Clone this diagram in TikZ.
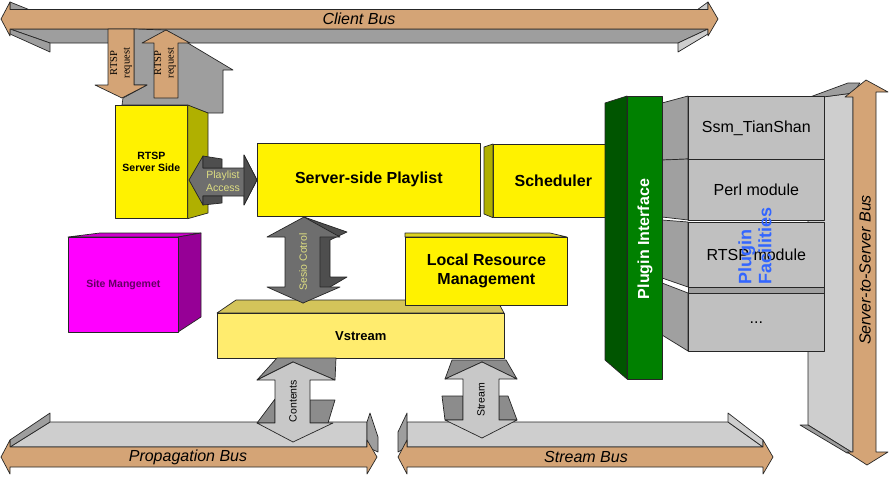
\documentclass[tikz,border=0pt]{standalone}
\usepackage{fontspec}
\setmainfont{Liberation Sans}
\newfontfamily\serifrm{Liberation Serif}
\definecolor{bustan}{RGB}{212,164,118}
\definecolor{busgray}{RGB}{158,158,158}
\definecolor{buslight}{RGB}{206,206,206}
\definecolor{boxolive}{RGB}{176,176,0}
\definecolor{vsfront}{RGB}{255,236,110}
\definecolor{vstop}{RGB}{212,196,90}
\definecolor{modfront}{RGB}{192,192,192}
\definecolor{modside}{RGB}{160,160,160}
\definecolor{pluggreen}{RGB}{0,128,0}
\definecolor{plugdark}{RGB}{0,85,0}
\definecolor{sitefront}{RGB}{255,0,255}
\definecolor{siteside}{RGB}{150,0,150}
\definecolor{sitetop}{RGB}{204,0,204}
\definecolor{sitetext}{RGB}{100,0,100}
\definecolor{arrowdark}{RGB}{110,110,110}
\definecolor{arrowdarker}{RGB}{78,78,78}
\definecolor{flapgray}{RGB}{140,140,140}
\definecolor{arrowlight}{RGB}{200,200,200}
\definecolor{khaki}{RGB}{222,222,130}
\definecolor{facblue}{RGB}{51,102,255}

\begin{document}
\begin{tikzpicture}[x=1pt,y=-1pt,
  outl/.style={draw=black!85,line width=0.7pt,line join=round},
  frontbox/.style={outl,fill=#1,anchor=north west,inner sep=0pt,align=center},
  busname/.style={font=\fontsize{16}{19}\selectfont\itshape},
  bigbold/.style={font=\fontsize{16}{19}\selectfont\bfseries},
  modname/.style={font=\fontsize{16}{19}\selectfont},
  smallbold/.style={font=\fontsize{10.5}{12.5}\selectfont\bfseries},
  small/.style={font=\fontsize{10.5}{12.5}\selectfont}]

\useasboundingbox (0,0) rectangle (889,477);

% client bus
\filldraw[busgray,outl] (10,29) -- (708,29) -- (678,43) -- (50,43) -- cycle;
\filldraw[busgray,outl] (10,29) -- (50,43) -- (50,52) -- (10,34) -- cycle;
\filldraw[buslight,outl] (708,29) -- (708,34) -- (678,52) -- (678,43) -- cycle;
\filldraw[busgray,outl] (10,2) -- (30,10) -- (10,10) -- cycle;
\filldraw[buslight,outl] (708,2) -- (708,10) -- (697,10) -- cycle;
\filldraw[bustan,outl] (1,19) -- (10,2) -- (10,9.5) -- (708,9.5) -- (708,2) -- (718,19)
  -- (708,36) -- (708,29) -- (10,29) -- (10,36) -- cycle;
\node[busname] (clientbus) at (359,19) {Client Bus};

% rtsp requests
\filldraw[busgray,outl] (134,29) -- (166,30) -- (233,70) -- (223,70) -- (223,113) -- (208,113)
  -- (187,105) -- (122,105) -- (123,98) -- (147,85) -- (134,85) -- cycle;
\filldraw[bustan,outl] (108,29) -- (134,29) -- (134,85) -- (147,85) -- (122,98) -- (95,85) -- (108,85) -- cycle;
\filldraw[bustan,outl] (154,98) -- (154,43) -- (142,43) -- (166,30) -- (190,43) -- (178,43) -- (178,98) -- cycle;
\node[rotate=90,align=center,font=\serifrm\fontsize{10.5}{12.5}\selectfont] (req1) at (121,63) {RTSP\\request};
\node[rotate=90,align=center,font=\serifrm\fontsize{10.5}{12.5}\selectfont] (req2) at (165,63) {RTSP\\request};

% rtsp server side
\node[frontbox=yellow,minimum width=72pt,minimum height=113pt,smallbold] (rtspsrv) at (115,105) {RTSP\\Server Side};
\filldraw[boxolive,outl] (rtspsrv.north east) -- (208,113) -- (208,213) -- (rtspsrv.south east) -- cycle;

% playlist + scheduler
\node[frontbox=yellow,minimum width=223pt,minimum height=73pt,bigbold] (playlist) at (257,143) {Server-side Playlist};
\filldraw[arrowdark,outl] (189,180) -- (203,156) -- (203,168) -- (244,168) -- (244,155) -- (257,180)
  -- (244,205) -- (244,196) -- (203,196) -- (203,205) -- cycle;
\filldraw[arrowdarker,outl] (203,156) -- (222,159) -- (222,168) -- (203,168) -- cycle;
\filldraw[arrowdarker,outl] (203,196) -- (222,196) -- (222,203) -- (203,205) -- cycle;
\filldraw[arrowdarker,outl] (244,155) -- (257,180) -- (244,205) -- cycle;
\node[small,text=khaki,align=center] (placcess) at (223,181) {Playlist\\Access};

\node[frontbox=yellow,minimum width=120pt,minimum height=73pt,bigbold] (sched) at (493,144) {Scheduler};
\filldraw[boxolive,outl] (484,147) -- (sched.north west) -- (sched.south west) -- (484,214) -- cycle;

% server-to-server bus
\filldraw[buslight,outl] (823,97) -- (853,93) -- (853,453) -- (808,425) -- (808,97) -- cycle;
\filldraw[busgray,outl] (810,97) -- (848,83) -- (860,83) -- (853,93) -- (823,97) -- cycle;
\filldraw[busgray,outl] (800,425) -- (808,425) -- (853,453) -- (847,453) -- cycle;
\filldraw[bustan,outl] (866,80) -- (888,92) -- (876,92) -- (876,452) -- (888,452) -- (867,465)
  -- (847,452) -- (853,452) -- (853,97) -- (845,97) -- cycle;
\node[busname,rotate=90] (s2sbus) at (865,270) {Server-to-Server Bus};

% plugin facilities
\filldraw[modside,outl] (662,103) -- (688,96) -- (688,159) -- (662,160) -- cycle;
\filldraw[modside,outl] (662,160) -- (688,159) -- (688,220) -- (662,217) -- cycle;
\filldraw[modside,outl] (662,220) -- (688,222) -- (688,287) -- (662,278) -- cycle;
\filldraw[modside,outl] (662,283) -- (688,293) -- (688,351) -- (662,335) -- cycle;
\node[frontbox=modfront,minimum width=136pt,minimum height=63pt,modname] (ssm) at (688,96) {Ssm\_TianShan};
\node[frontbox=modfront,minimum width=136pt,minimum height=61pt,modname] (perl) at (688,159) {Perl module};
\node[frontbox=modfront,minimum width=136pt,minimum height=65pt,modname] (rtspmod) at (688,222) {RTSP module};
\filldraw[modside,outl] (688,287) rectangle (824,293);
\node[frontbox=modfront,minimum width=136pt,minimum height=58pt,modname] (moremod) at (688,293) {...};
\node[rotate=90,anchor=west,inner sep=0pt,align=left,text=facblue,
  font=\fontsize{18}{20}\selectfont\bfseries] (plugfac) at (755,285) {Plugin\\Facilities};

% plugin interface
\filldraw[plugdark,outl] (605,103) -- (627,96) -- (627,379) -- (605,360) -- cycle;
\filldraw[pluggreen,outl] (627,96) rectangle (662,379);
\node[bigbold,rotate=90,text=white] (plugif) at (645,239) {Plugin Interface};

% site management
\filldraw[sitetop,outl] (68,237) -- (100,233) -- (201,233) -- (178,237) -- cycle;
\filldraw[siteside,outl] (178,237) -- (201,233) -- (201,317) -- (178,332) -- cycle;
\node[frontbox=sitefront,minimum width=110pt,minimum height=95pt,smallbold,text=sitetext] (sitemgmt) at (68,237) {Site Mangemet};

% vstream
\filldraw[vstop,outl] (217,313) -- (236,300) -- (497,300) -- (504,313) -- cycle;
\node[frontbox=vsfront,minimum width=287pt,minimum height=45pt,font=\fontsize{13}{15}\selectfont\bfseries] (vstream) at (217,313) {Vstream};

% local resource management
\filldraw[yellow!85!black,outl] (405,233) -- (550,233) -- (567,237) -- (405,237) -- cycle;
\node[frontbox=yellow,minimum width=162pt,minimum height=68pt,bigbold] (lrm) at (405,237) {Local Resource\\Management};

% session control
\filldraw[arrowdarker,outl] (304,217) -- (347,232) -- (330,240) -- (330,277) -- (347,277) -- (303,303) -- cycle;
\filldraw[arrowdark,outl] (304,217) -- (340,237) -- (320,237) -- (320,287) -- (340,287) -- (303,303)
  -- (267,287) -- (285,287) -- (285,237) -- (267,237) -- cycle;
\node[small,rotate=90,text=khaki] (sesio) at (303,262) {Sesio Cotrol};

% propagation bus
\filldraw[buslight,outl] (10,447) -- (50,422) -- (367,422) -- (367,447) -- cycle;
\filldraw[busgray,outl] (10,440) -- (50,413) -- (50,422) -- (10,447) -- cycle;
\filldraw[busgray,outl] (367,422) -- (370,413) -- (378,437) -- (378,452) -- (367,447) -- cycle;
\filldraw[bustan,outl] (1,457) -- (10,440) -- (10,447) -- (367,447) -- (367,440) -- (377,457)
  -- (367,474) -- (367,467) -- (10,467) -- (10,474) -- cycle;
\node[busname] (propbus) at (188,457) {Propagation Bus};

% stream bus
\filldraw[buslight,outl] (407,447) -- (407,422) -- (728,422) -- (763,447) -- cycle;
\filldraw[busgray,outl] (398,432) -- (407,413) -- (407,447) -- (398,452) -- cycle;
\filldraw[buslight,outl] (728,413) -- (763,440) -- (763,447) -- (728,422) -- cycle;
\filldraw[bustan,outl] (398,457) -- (407,440) -- (407,447) -- (763,447) -- (763,440) -- (773,457)
  -- (763,474) -- (763,467) -- (407,467) -- (407,474) -- cycle;
\node[busname] (streambus) at (586,457) {Stream Bus};

% contents
\filldraw[flapgray,outl] (257,380) -- (277,358) -- (336,358) -- (335,380) -- (293,362) -- cycle;
\filldraw[flapgray,outl] (275,399) -- (275,423) -- (257,423) -- cycle;
\filldraw[flapgray,outl] (310,400) -- (335,400) -- (328,423) -- (310,423) -- cycle;
\filldraw[arrowlight,outl] (293,362) -- (335,380) -- (310,380) -- (310,423) -- (333,423) -- (293,442)
  -- (257,423) -- (275,423) -- (275,380) -- (257,380) -- cycle;
\node[small,rotate=90] (contents) at (293,401) {Contents};

% stream
\filldraw[flapgray,outl] (445,379) -- (452,360) -- (506,360) -- (517,379) -- (482,362) -- cycle;
\filldraw[flapgray,outl] (442,396) -- (463,396) -- (463,420) -- (445,420) -- cycle;
\filldraw[flapgray,outl] (499,396) -- (508,396) -- (517,420) -- (499,420) -- cycle;
\filldraw[arrowlight,outl] (482,362) -- (517,379) -- (499,379) -- (499,420) -- (517,420) -- (482,438)
  -- (445,420) -- (463,420) -- (463,379) -- (445,379) -- cycle;
\node[small,rotate=90] (stream) at (481,400) {Stream};
\end{tikzpicture}
\end{document}
